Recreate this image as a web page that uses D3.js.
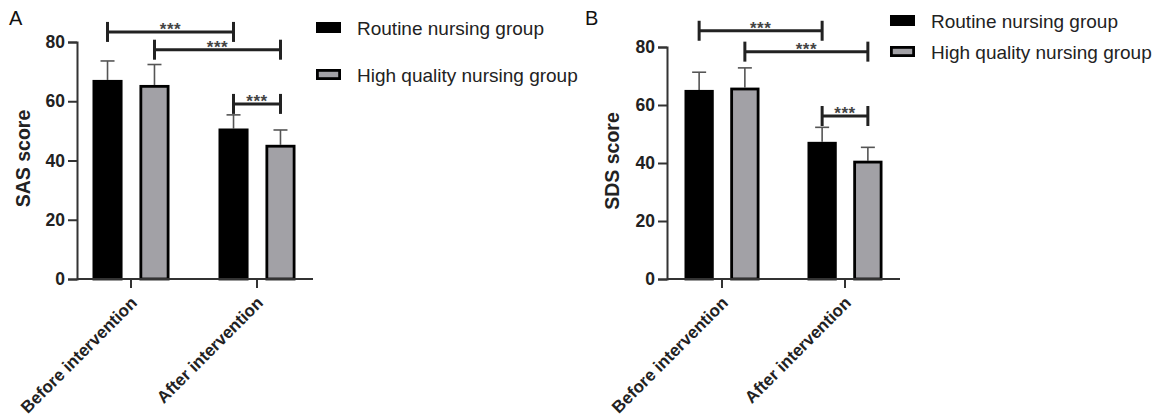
<!DOCTYPE html>
<html>
<head>
<meta charset="utf-8">
<script src="https://cdn.jsdelivr.net/npm/d3@7/dist/d3.min.js"></script>
<style>
    body { margin: 0; background: #fff; }
    svg { display: block; font-family: "Liberation Sans", Arial, sans-serif; }
</style>
</head>
<body>
<div id="chart"></div>
<script>
    // data
    const categories = ['Before intervention', 'After intervention'];
    const groups = ['Routine nursing group', 'High quality nursing group'];
    const yTicks = [0, 20, 40, 60, 80];

    const sasRoutine = [67.2, 50.8];
    const sasRoutineSD = [6.4, 4.6];
    const sasHighQuality = [65.5, 45.3];
    const sasHighQualitySD = [6.9, 5.0];
    const sasBracketY = [83.4, 77.4, 59.1];

    const sdsRoutine = [65.2, 47.3];
    const sdsRoutineSD = [6.1, 5.0];
    const sdsHighQuality = [66.0, 40.8];
    const sdsHighQualitySD = [6.8, 4.6];
    const sdsBracketY = [85.6, 78.4, 56.2];

    // brackets: [category, group] -> [category, group]
    const brackets = [
        [[0, 0], [1, 0]],
        [[0, 1], [1, 1]],
        [[1, 0], [1, 1]]
    ];
    const bracketLabel = '***';

    const colors = ['#000000', '#a2a1a6'];

    const svg = d3.select('#chart').append('svg')
        .attr('width', 1156)
        .attr('height', 419);

    function drawPanel(opt) {
        let g = svg.append('g').attr('transform', 'translate(' + opt.left + ',0)');

        let y = d3.scaleLinear().domain([0, 80]).range([opt.bottom, opt.top]);
        let x0 = d3.scalePoint().domain(categories).range(opt.catRange);
        let x1 = d3.scaleBand().domain(groups).range([-opt.half, opt.half]).paddingInner(0.36);

        let rows = [];
        categories.forEach(function (c, i) {
            rows.push({cat: c, grp: groups[0], v: opt.means[0][i], sd: opt.sds[0][i], gi: 0});
            rows.push({cat: c, grp: groups[1], v: opt.means[1][i], sd: opt.sds[1][i], gi: 1});
        });

        // error bars (upper only)
        let eb = g.selectAll('.err').data(rows).enter().append('g').attr('class', 'err');
        eb.append('line')
            .attr('x1', d => x0(d.cat) + x1(d.grp) + x1.bandwidth() / 2)
            .attr('x2', d => x0(d.cat) + x1(d.grp) + x1.bandwidth() / 2)
            .attr('y1', d => y(d.v))
            .attr('y2', d => y(d.v + d.sd))
            .attr('stroke', '#555').attr('stroke-width', 1.6);
        eb.append('line')
            .attr('x1', d => x0(d.cat) + x1(d.grp) + x1.bandwidth() / 2 - 7)
            .attr('x2', d => x0(d.cat) + x1(d.grp) + x1.bandwidth() / 2 + 7)
            .attr('y1', d => y(d.v + d.sd))
            .attr('y2', d => y(d.v + d.sd))
            .attr('stroke', '#555').attr('stroke-width', 1.6);

        // bars
        g.selectAll('.bar').data(rows).enter().append('rect')
            .attr('class', 'bar')
            .attr('x', d => x0(d.cat) + x1(d.grp) + 1.4)
            .attr('y', d => y(d.v) + 1.4)
            .attr('width', x1.bandwidth() - 2.8)
            .attr('height', d => y(0) - y(d.v) - 1.4)
            .attr('fill', d => colors[d.gi])
            .attr('stroke', '#000')
            .attr('stroke-width', 2.8);

        // y axis
        let ya = g.append('g')
            .call(d3.axisLeft(y).tickValues(yTicks).tickSize(9).tickPadding(3));
        ya.select('.domain').attr('stroke', '#333').attr('stroke-width', 2);
        ya.selectAll('.tick line').attr('stroke', '#333').attr('stroke-width', 2);
        ya.selectAll('.tick text')
            .attr('font-size', 17.5).attr('font-weight', 'bold').attr('fill', '#222')
            .attr('font-family', '"Liberation Sans", Arial, sans-serif');

        // x axis
        let xa = g.append('g').attr('transform', 'translate(0,' + y(0) + ')');
        xa.append('line')
            .attr('x1', 0).attr('x2', opt.xEnd)
            .attr('stroke', '#333').attr('stroke-width', 2);
        xa.selectAll('.xt').data(categories).enter().append('line')
            .attr('x1', d => x0(d)).attr('x2', d => x0(d))
            .attr('y1', 0).attr('y2', 9)
            .attr('stroke', '#333').attr('stroke-width', 2);
        xa.selectAll('.xl').data(categories).enter().append('text')
            .attr('transform', d => 'translate(' + (x0(d) + 7) + ',' + 25 + ') rotate(-45)')
            .attr('text-anchor', 'end')
            .attr('font-size', 17).attr('font-weight', 'bold').attr('fill', '#222')
            .text(d => d);

        // y title
        g.append('text')
            .attr('transform', 'translate(' + opt.titleX + ',' + ((opt.top + opt.bottom) / 2 - 2) + ') rotate(-90)')
            .attr('text-anchor', 'middle')
            .attr('font-size', 19.5).attr('font-weight', 'bold').attr('fill', '#222')
            .text(opt.yTitle);

        // significance brackets
        let bx = function (p) { return x0(categories[p[0]]) + x1(groups[p[1]]) + x1.bandwidth() / 2; };
        brackets.forEach(function (b, i) {
            let by = y(opt.bracketY[i]);
            let xa1 = bx(b[0]), xa2 = bx(b[1]);
            let bg = g.append('g').attr('stroke', '#222').attr('stroke-width', 3);
            bg.append('line').attr('x1', xa1).attr('x2', xa2).attr('y1', by).attr('y2', by);
            bg.append('line').attr('x1', xa1).attr('x2', xa1).attr('y1', by - 10).attr('y2', by + 10);
            bg.append('line').attr('x1', xa2).attr('x2', xa2).attr('y1', by - 10).attr('y2', by + 10);
            g.append('text')
                .attr('x', (xa1 + xa2) / 2).attr('y', by + 3)
                .attr('text-anchor', 'middle')
                .attr('font-size', 17).attr('font-weight', 'bold').attr('fill', '#444')
                .attr('letter-spacing', 0.5)
                .text(bracketLabel);
        });

        // panel letter
        svg.append('text')
            .attr('x', opt.letterX).attr('y', 25)
            .attr('font-size', 20).attr('fill', '#111')
            .text(opt.letter);

        // legend
        let lg = svg.append('g').attr('transform', 'translate(' + opt.legendX + ',' + opt.legendY + ')');
        groups.forEach(function (name, i) {
            let row = lg.append('g').attr('transform', 'translate(0,' + (i * opt.legendGap) + ')');
            row.append('rect')
                .attr('x', 1.4).attr('y', -4.6)
                .attr('width', 22.2).attr('height', 8.2)
                .attr('fill', colors[i]).attr('stroke', '#000').attr('stroke-width', 2.8);
            row.append('text')
                .attr('x', 41).attr('y', 0).attr('dy', '0.35em')
                .attr('font-size', 19).attr('fill', '#222')
                .text(name);
        });
    }

    drawPanel({
        letter: 'A', letterX: 9,
        left: 77, top: 42, bottom: 279,
        catRange: [54, 180], half: 38.5, xEnd: 236,
        titleX: -47, yTitle: 'SAS score',
        means: [sasRoutine, sasHighQuality],
        sds: [sasRoutineSD, sasHighQualitySD],
        bracketY: sasBracketY,
        legendX: 316, legendY: 28, legendGap: 47
    });

    drawPanel({
        letter: 'B', letterX: 585,
        left: 667, top: 47, bottom: 279,
        catRange: [55, 178], half: 37.5, xEnd: 233,
        titleX: -48, yTitle: 'SDS score',
        means: [sdsRoutine, sdsHighQuality],
        sds: [sdsRoutineSD, sdsHighQualitySD],
        bracketY: sdsBracketY,
        legendX: 890, legendY: 21, legendGap: 31
    });
</script>
</body>
</html>
